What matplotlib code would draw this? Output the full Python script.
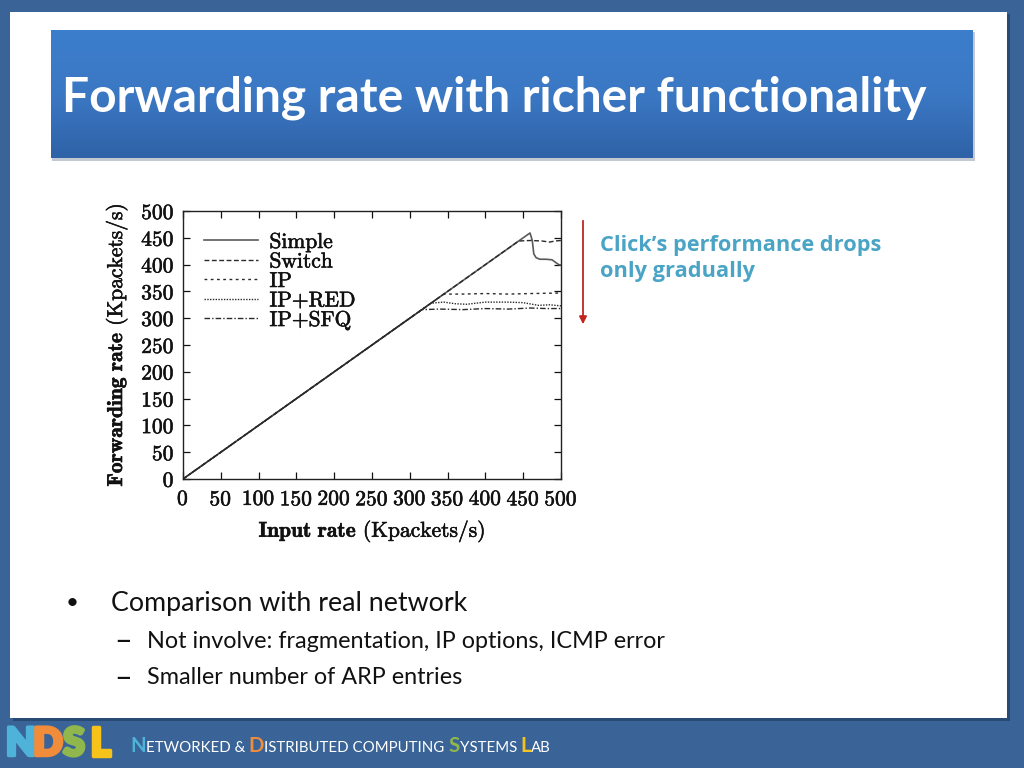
import matplotlib
matplotlib.use('Agg')
import matplotlib.pyplot as plt
import matplotlib.patheffects as pe
import numpy as np
from matplotlib.patches import Rectangle, FancyArrowPatch
from matplotlib.colors import LinearSegmentedColormap

# ---------------- data ----------------
simple_in = [0, 100, 200, 300, 400, 459, 462, 464, 467, 472, 480, 488, 493, 497, 500]
simple_out = [0, 100, 200, 300, 400, 459, 445, 420, 413, 410, 410, 409, 404, 400, 399]

switch_in = [0, 100, 200, 300, 400, 444, 460, 475, 485, 492, 500]
switch_out = [0, 100, 200, 300, 400, 444, 445, 444, 442, 444, 445]

ip_in = [0, 100, 200, 300, 345, 370, 400, 430, 460, 500]
ip_out = [0, 100, 200, 300, 345, 345, 346, 345, 346, 347]

ipred_in = [0, 100, 200, 300, 328, 345, 360, 375, 400, 430, 450, 470, 485, 500]
ipred_out = [0, 100, 200, 300, 328, 330, 327, 326, 330, 330, 329, 324, 325, 323]

ipsfq_in = [0, 100, 200, 300, 316, 340, 370, 400, 430, 460, 480, 500]
ipsfq_out = [0, 100, 200, 300, 316, 317, 316, 318, 317, 319, 318, 318]

series_labels = ["Simple", "Switch", "IP", "IP+RED", "IP+SFQ"]
x_ticks = [0, 50, 100, 150, 200, 250, 300, 350, 400, 450, 500]
y_ticks = [0, 50, 100, 150, 200, 250, 300, 350, 400, 450, 500]

title = "Forwarding rate with richer functionality"
note_lines = ["Click\u2019s performance drops", "only gradually"]
bullet = "Comparison with real network"
subbullets = ["Not involve: fragmentation, IP options, ICMP error",
              "Smaller number of ARP entries"]

# ---------------- setup ----------------
plt.rcParams['mathtext.fontset'] = 'cm'
plt.rcParams['axes.unicode_minus'] = False
plt.rcParams['axes.formatter.use_mathtext'] = True

W, H = 1024, 768
fig = plt.figure(figsize=(W / 100, H / 100), dpi=100)
fig.patch.set_facecolor('#3a6498')
r = fig.canvas.get_renderer()

bg = fig.add_axes([0, 0, 1, 1])
bg.axis('off')

# white panel with shadow
bg.add_patch(Rectangle((13, 14), 997, 707, color='#1c3556', alpha=0.55, lw=0, zorder=0))
bg.add_patch(Rectangle((10, 12), 997, 706, color='white', lw=0, zorder=1))
# title box shadow + gradient
bg.add_patch(Rectangle((52, 32), 923, 129, color='#9aa6b4', alpha=0.6, lw=0, zorder=1.5))
grad = np.linspace(0, 1, 256).reshape(-1, 1)
cmap = LinearSegmentedColormap.from_list('t', ['#3c7ecc', '#3b78c4', '#2f62a7'])
bg.imshow(grad, cmap=cmap, extent=(51, 973, 158, 30), aspect='auto', zorder=2,
          interpolation='bilinear')
bg.set_xlim(0, W)
bg.set_ylim(H, 0)


def fit(t, target_w):
    w = t.get_window_extent(r).width
    t.set_fontsize(t.get_fontsize() * target_w / w)


tt = bg.text(62, 98, title, color='white', fontsize=30, fontweight='bold',
             family='Lato', va='center', ha='left', zorder=3)
fit(tt, 865)

# annotation text + arrow
c_note = '#4aa4c6'
n1 = bg.text(600, 245, note_lines[0], color=c_note, fontsize=15, fontweight='bold',
             family='Open Sans', va='center', ha='left', zorder=3)
fit(n1, 282)
bg.text(600, 272, note_lines[1], color=c_note, fontsize=n1.get_fontsize(), fontweight='bold',
        family='Open Sans', va='center', ha='left', zorder=3)
bg.add_patch(FancyArrowPatch((583, 218), (583, 327), arrowstyle='-|>', mutation_scale=11,
                             color='#c0261e', lw=1.3, zorder=3))

# bullets
bg.text(66, 603, "\u2022", color='#111111', fontsize=16, family='Lato', va='center', zorder=3)
b1 = bg.text(111, 603, bullet, color='#111111', fontsize=18, family='Lato',
             va='center', ha='left', zorder=3)
fit(b1, 355)
s1 = bg.text(147, 641, subbullets[0], color='#111111', fontsize=15, family='Lato',
             va='center', ha='left', zorder=3)
fit(s1, 519)
bg.text(147, 678, subbullets[1], color='#111111', fontsize=s1.get_fontsize(), family='Lato',
        va='center', ha='left', zorder=3)
for yy in (641, 678):
    bg.text(114, yy, "\u2013", color='#111111', fontsize=s1.get_fontsize() * 1.3,
            family='Lato', va='center', ha='left', zorder=3)

# footer logo
logo = [("N", '#4fb3d9', 21), ("D", '#f08c3a', 48), ("S", '#8fb74e', 74), ("L", '#f7c21a', 100)]
for ch, col, cx in logo:
    bg.text(cx, 744, ch, color=col, fontsize=28, fontweight='heavy', family='Lato',
            ha='center', va='center', zorder=3,
            path_effects=[pe.withStroke(linewidth=2.5, foreground=col)])

pieces = [("N", '#4fb3d9', True), ("ETWORKED & ", 'white', False),
          ("D", '#f08c3a', True), ("ISTRIBUTED COMPUTING ", 'white', False),
          ("S", '#8fb74e', True), ("YSTEMS ", 'white', False),
          ("L", '#f7c21a', True), ("AB", 'white', False)]


def place(fs_big, fs_small):
    x = 130
    arts = []
    for s, col, big in pieces:
        t = bg.text(x, 752, s, color=col, fontsize=fs_big if big else fs_small,
                    family='Lato', fontweight='bold' if big else 'normal',
                    va='baseline', ha='left', zorder=3)
        w = t.get_window_extent(r).width
        x += w
        arts.append(t)
    return x - 130, arts


total, arts = place(11.5, 8.5)
for a in arts:
    a.remove()
sc = 418 / total
place(11.5 * sc, 8.5 * sc)

# ---------------- chart ----------------
ax = fig.add_axes([183 / W, 1 - 479 / H, 378 / W, 268 / H])
ax.set_zorder(5)
ax.set_facecolor('white')

lc = '#2a2a2a'
ax.plot(simple_in, simple_out, color='#5a5a5a', lw=1.2, ls='-', label=series_labels[0])
ax.plot(switch_in, switch_out, color=lc, lw=1.0, ls=(0, (3.5, 1.8)), label=series_labels[1])
ax.plot(ip_in, ip_out, color=lc, lw=1.0, ls=(0, (2, 2.5)), label=series_labels[2])
ax.plot(ipred_in, ipred_out, color=lc, lw=1.0, ls=(0, (1, 1)), label=series_labels[3])
ax.plot(ipsfq_in, ipsfq_out, color=lc, lw=1.0, ls=(0, (4, 1.5, 1, 1.5)), label=series_labels[4])

ax.set_xlim(0, 500)
ax.set_ylim(0, 500)
ax.set_xticks(x_ticks)
ax.set_yticks(y_ticks)
ax.tick_params(direction='in', length=5, width=0.9, top=True, right=True,
               labelsize=15.5, labelfontfamily='cmr10', pad=6, colors='#111111')
ax.tick_params(axis='x', pad=7.5)
for sp in ax.spines.values():
    sp.set_linewidth(1.0)
    sp.set_color('#222222')

thick = [pe.withStroke(linewidth=0.4, foreground='#111111')]
for lab in ax.get_xticklabels() + ax.get_yticklabels():
    lab.set_path_effects(thick)

ax.set_xlabel(r"$\mathbf{Input\ rate}$ (Kpackets/s)", family='cmr10', fontsize=15.5,
              labelpad=6, color='#111111', path_effects=thick)
ax.set_ylabel(r"$\mathbf{Forwarding\ rate}$ (Kpackets/s)", family='cmr10', fontsize=15.5,
              labelpad=8, color='#111111', path_effects=thick)

leg = ax.legend(loc='upper left', bbox_to_anchor=(0.055, 0.92), frameon=False,
                prop={'family': 'cmr10', 'size': 15.5}, handlelength=2.5, handletextpad=0.55,
                labelspacing=0.0, borderpad=0, borderaxespad=0)
for t in leg.get_texts():
    t.set_color('#111111')
    t.set_path_effects(thick)

fig.savefig('out.png', dpi=100, facecolor=fig.get_facecolor())
